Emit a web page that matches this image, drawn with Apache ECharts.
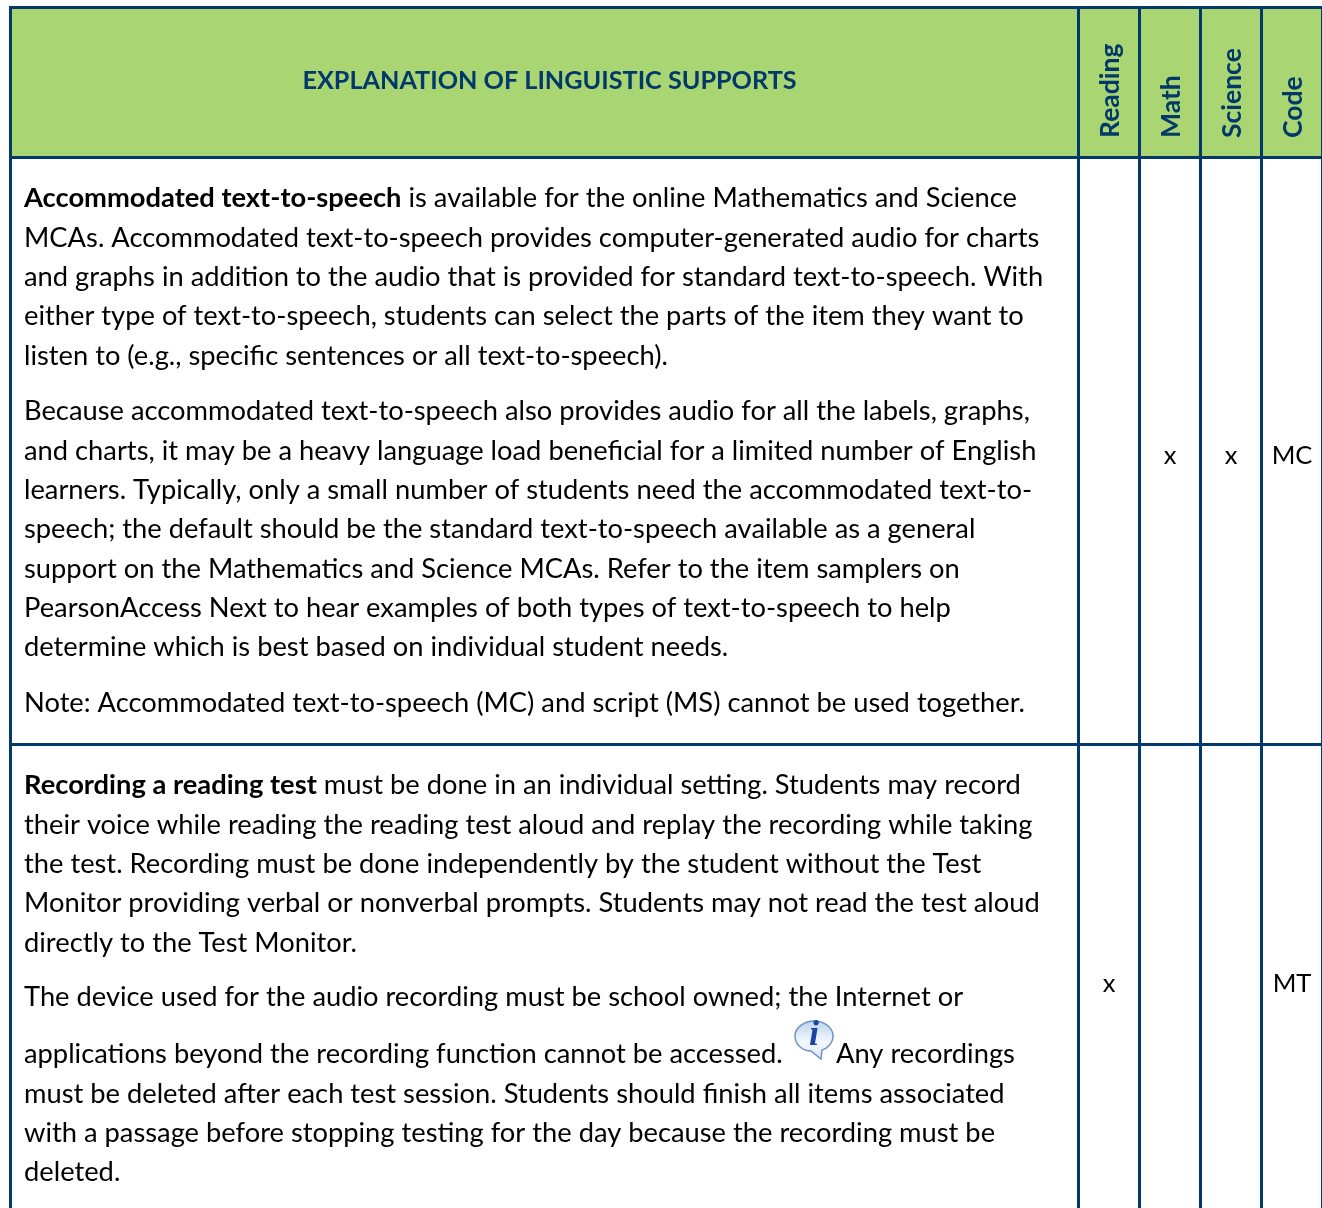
<!DOCTYPE html>
<html>
<head>
<meta charset="utf-8">
<title>Explanation of linguistic supports</title>
<style>
    html, body { margin: 0; padding: 0; background: #fff; }
    #Support-Table { width: 1322px; height: 1208px; }
</style>
<script src="https://cdn.jsdelivr.net/npm/echarts@6/dist/echarts.min.js"></script>
</head>
<body>
<div id="Support-Table"></div>
<script>
// table content
const tableTitle = 'EXPLANATION OF LINGUISTIC SUPPORTS';
const supportColumns = ['Reading', 'Math', 'Science', 'Code'];
const rowMarks = [
    ['', 'x', 'x', 'MC'],
    ['x', '', '', 'MT'],
];
const boldLeads = ['Accommodated text-to-speech', null, null, 'Recording a reading test', null, null];
const paragraphs = [
    [
        ' is available for the online Mathematics and Science',
        'MCAs. Accommodated text-to-speech provides computer-generated audio for charts',
        'and graphs in addition to the audio that is provided for standard text-to-speech. With',
        'either type of text-to-speech, students can select the parts of the item they want to',
        'listen to (e.g., specific sentences or all text-to-speech).',
    ],
    [
        'Because accommodated text-to-speech also provides audio for all the labels, graphs,',
        'and charts, it may be a heavy language load beneficial for a limited number of English',
        'learners. Typically, only a small number of students need the accommodated text-to-',
        'speech; the default should be the standard text-to-speech available as a general',
        'support on the Mathematics and Science MCAs. Refer to the item samplers on',
        'PearsonAccess Next to hear examples of both types of text-to-speech to help',
        'determine which is best based on individual student needs.',
    ],
    [
        'Note: Accommodated text-to-speech (MC) and script (MS) cannot be used together.',
    ],
    [
        ' must be done in an individual setting. Students may record',
        'their voice while reading the reading test aloud and replay the recording while taking',
        'the test. Recording must be done independently by the student without the Test',
        'Monitor providing verbal or nonverbal prompts. Students may not read the test aloud',
        'directly to the Test Monitor.',
    ],
    [
        'The device used for the audio recording must be school owned; the Internet or',
    ],
    [
        'applications beyond the recording function cannot be accessed.',
        'must be deleted after each test session. Students should finish all items associated',
        'with a passage before stopping testing for the day because the recording must be',
        'deleted.',
    ],
];
const iconFollowText = 'Any recordings';

// layout, in the pixel scale of the two hidden axes
const columnEdges = [10.5, 1078.5, 1139.5, 1200.5, 1261.5, 1322.5];
const rowEdges = [7.5, 157.5, 744.5, 1224];
const paragraphTops = [198.4, 411.4, 703.4, 785.4, 997.4, 1054.4];
const markRowY = [456, 984];
const lineStep = 39.35;
const textLeft = 24;

const navy = '#02386a';
const green = '#a9d672';
const bodySize = 27.3;

function renderTable(params, api) {
    const children = [];
    const bodyFont = { fontFamily: 'Lato', fontSize: bodySize, fill: '#000' };

    // header fill and title
    const tl = api.coord([columnEdges[0], rowEdges[0]]);
    const br = api.coord([columnEdges[columnEdges.length - 1], rowEdges[1]]);
    children.push({ type: 'rect', shape: { x: tl[0], y: tl[1], width: br[0] - tl[0], height: br[1] - tl[1] }, style: { fill: green } });
    const titlePos = api.coord([(columnEdges[0] + columnEdges[1]) / 2 + 5, 81]);
    children.push({
        type: 'text', x: titlePos[0], y: titlePos[1],
        style: { text: tableTitle, fontFamily: 'Lato', fontWeight: 'bold', fontSize: 25.2, fill: navy, align: 'center', verticalAlign: 'middle' }
    });

    // rotated column headers, reading upwards from a common bottom
    supportColumns.forEach(function (name, i) {
        const p = api.coord([(columnEdges[i + 1] + columnEdges[i + 2]) / 2 + 1, 138]);
        children.push({
            type: 'text', x: p[0], y: p[1], rotation: Math.PI / 2,
            style: { text: name, fontFamily: 'Lato', fontWeight: 'bold', fontSize: 26.5, fill: navy, align: 'left', verticalAlign: 'middle' }
        });
    });

    // body text
    paragraphs.forEach(function (lines, i) {
        lines.forEach(function (line, j) {
            const p = api.coord([textLeft, paragraphTops[i] + j * lineStep]);
            const lead = j === 0 ? boldLeads[i] : null;
            const style = Object.assign({ align: 'left', verticalAlign: 'middle' }, bodyFont);
            if (lead) {
                style.text = '{b|' + lead + '}{r|' + line + '}';
                style.rich = {
                    b: { fontFamily: 'Lato', fontWeight: 'bold', fontSize: bodySize, fill: '#000' },
                    r: { fontFamily: 'Lato', fontSize: bodySize, fill: '#000' }
                };
            } else {
                style.text = line;
            }
            children.push({ type: 'text', x: p[0], y: p[1], style: style });
        });
    });
    const after = api.coord([836, paragraphTops[5]]);
    children.push({ type: 'text', x: after[0], y: after[1], style: Object.assign({ text: iconFollowText, align: 'left', verticalAlign: 'middle' }, bodyFont) });

    // info bubble
    const ic = api.coord([814, 1037]);
    children.push({
        type: 'group', x: ic[0], y: ic[1],
        children: [
            {
                type: 'path',
                shape: {
                    pathData: 'M-19,-1 C-19,-10 -9,-16 0,-16 C11,-16 19,-9 19,-1 C19,6 13,12 8,13 L7,22 L-3,14 C-12,14 -19,7 -19,-1 Z',
                    x: -19, y: -16, width: 38, height: 38
                },
                style: {
                    fill: new echarts.graphic.LinearGradient(0, 0, 0, 1, [
                        { offset: 0, color: '#b9d3ef' },
                        { offset: 0.55, color: '#f4f8fd' },
                        { offset: 1, color: '#dbe7f6' }
                    ]),
                    stroke: '#6e93c4', lineWidth: 1.5
                }
            },
            {
                type: 'text', x: 0, y: -1,
                style: { text: 'i', fontFamily: 'Liberation Serif', fontStyle: 'italic', fontWeight: 'bold', fontSize: 36, fill: '#1c43a3', align: 'center', verticalAlign: 'middle' }
            }
        ]
    });

    // marks in the four support columns
    rowMarks.forEach(function (marks, r) {
        marks.forEach(function (mark, c) {
            if (!mark) return;
            const p = api.coord([(columnEdges[c + 1] + columnEdges[c + 2]) / 2, markRowY[r]]);
            children.push({ type: 'text', x: p[0], y: p[1], style: Object.assign({}, bodyFont, { text: mark, fontSize: 25.5, align: 'center', verticalAlign: 'middle' }) });
        });
    });

    // rules
    columnEdges.forEach(function (x) {
        const a = api.coord([x, rowEdges[0] - 1.5]);
        const b = api.coord([x, rowEdges[3]]);
        children.push({ type: 'line', shape: { x1: a[0], y1: a[1], x2: b[0], y2: b[1] }, style: { stroke: navy, lineWidth: 3 } });
    });
    rowEdges.slice(0, 3).forEach(function (y) {
        const a = api.coord([columnEdges[0], y]);
        const b = api.coord([columnEdges[columnEdges.length - 1], y]);
        children.push({ type: 'line', shape: { x1: a[0], y1: a[1], x2: b[0], y2: b[1] }, style: { stroke: navy, lineWidth: 3 } });
    });

    return { type: 'group', children: children };
}

function drawTable() {
    var dom = document.getElementById('Support-Table');
    var myChart = echarts.init(dom, null, { renderer: 'canvas' });
    var option = {
        animation: false,
        grid: { left: 0, right: 0, top: 0, bottom: 0 },
        xAxis: { type: 'value', min: 0, max: 1322, show: false },
        yAxis: { type: 'value', min: 0, max: 1208, inverse: true, show: false },
        series: [
            {
                type: 'custom',
                coordinateSystem: 'cartesian2d',
                clip: true,
                silent: true,
                data: [[0, 0]],
                renderItem: renderTable
            }
        ]
    };
    myChart.setOption(option);
}

drawTable();
</script>
</body>
</html>
